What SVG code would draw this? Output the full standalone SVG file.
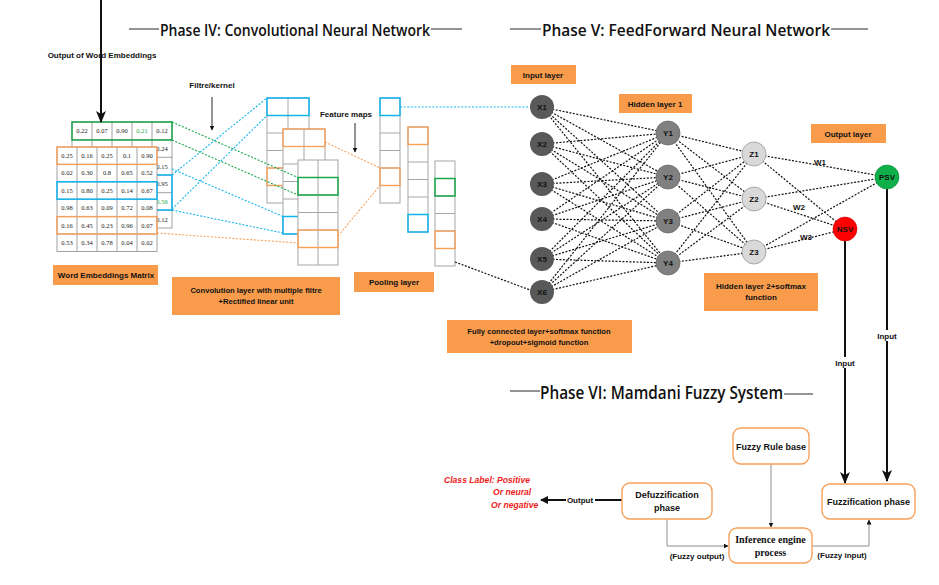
<svg xmlns="http://www.w3.org/2000/svg" width="939" height="585" viewBox="0 0 939 585">
<style>
.t{font-family:"Liberation Sans",Arial,sans-serif;font-weight:bold;font-size:8px;fill:#111;text-anchor:middle}
.h{font-family:"Open Sans","Liberation Sans",Arial,sans-serif;font-weight:600;font-size:17px;fill:#111}
.n{font-family:"Liberation Serif","Times New Roman",serif;font-size:6.5px;fill:#222;text-anchor:middle}
.lbl{fill:#f89c4c}
.grid{fill:#fff;stroke:#a6a6a6;stroke-width:1}
.gl{stroke:#a6a6a6;stroke-width:1}
.cell{fill:#fff;stroke:#8a8a8a;stroke-width:0.8}
.cl{stroke:#8a8a8a;stroke-width:0.8}
.gb{fill:none;stroke:#1aa84a;stroke-width:1.5}
.bb{fill:none;stroke:#12b4ee;stroke-width:1.5}
.ob{fill:none;stroke:#f7a05a;stroke-width:1.4}
.dk{fill:none;stroke:#111;stroke-width:1.2;stroke-dasharray:2 1.5}
.dg{fill:none;stroke:#1aa84a;stroke-width:1.1;stroke-dasharray:2 1.6}
.db{fill:none;stroke:#12b4ee;stroke-width:1.1;stroke-dasharray:2 1.6}
.do{fill:none;stroke:#f7a05a;stroke-width:1.1;stroke-dasharray:2 1.6}
.box{fill:#fff;stroke:#f7a05a;stroke-width:1.4}
.gr{fill:none;stroke:#8c8c8c;stroke-width:1}
.thick{fill:none;stroke:#111;stroke-width:2}
.thin{fill:none;stroke:#111;stroke-width:0.9}
</style>
<defs>
<marker id="ab" markerWidth="8" markerHeight="8" refX="7" refY="4" orient="auto" markerUnits="userSpaceOnUse"><path d="M0,0 L8,4 L0,8 Z" fill="#111"/></marker>
<marker id="abig" markerWidth="12" markerHeight="10" refX="11" refY="5" orient="auto" markerUnits="userSpaceOnUse"><path d="M0,0 L12,5 L0,10 L3,5 Z" fill="#111"/></marker>
<marker id="as" markerWidth="5" markerHeight="5" refX="4.5" refY="2.5" orient="auto" markerUnits="userSpaceOnUse"><path d="M0,0 L5,2.5 L0,5 Z" fill="#111"/></marker>
</defs>
<rect width="939" height="585" fill="#fff"/>

<g id="headings">
<line x1="129" y1="29" x2="159" y2="29" class="thin"/>
<text x="160" y="36" class="h" textLength="270" lengthAdjust="spacingAndGlyphs">Phase IV: Convolutional Neural Network</text>
<line x1="431" y1="29" x2="462" y2="29" class="thin"/>
<line x1="510" y1="29" x2="541" y2="29" class="thin"/>
<text x="542" y="36" class="h" textLength="288" lengthAdjust="spacingAndGlyphs">Phase V: FeedForward Neural Network</text>
<line x1="831" y1="29" x2="868" y2="29" class="thin"/>
<line x1="510" y1="391" x2="540" y2="391" class="thin"/>
<text x="540" y="399" class="h" style="font-size:18px" textLength="243" lengthAdjust="spacingAndGlyphs">Phase VI: Mamdani Fuzzy System</text>
<line x1="784" y1="394" x2="813" y2="394" class="thin"/>
</g>

<g id="embedding-output">
<text x="102" y="58" class="t">Output of Word Embeddings</text>
</g>

<g id="matrix-back">
<rect x="72" y="122" width="100" height="106" class="cell"/>
<line x1="92" y1="122" x2="92" y2="228" class="cl"/><line x1="112" y1="122" x2="112" y2="228" class="cl"/><line x1="132" y1="122" x2="132" y2="228" class="cl"/><line x1="152" y1="122" x2="152" y2="228" class="cl"/>
<line x1="72" y1="139.7" x2="172" y2="139.7" class="cl"/><line x1="72" y1="157.3" x2="172" y2="157.3" class="cl"/><line x1="72" y1="175" x2="172" y2="175" class="cl"/><line x1="72" y1="192.7" x2="172" y2="192.7" class="cl"/><line x1="72" y1="210.3" x2="172" y2="210.3" class="cl"/>
<text x="82" y="133.3" class="n">0.22</text><text x="102" y="133.3" class="n">0.07</text><text x="122" y="133.3" class="n">0.90</text><text x="142" y="133.3" class="n" style="fill:#1aa84a">0.21</text><text x="162" y="133.3" class="n">0.12</text>
<text x="162" y="150.8" class="n">0.24</text>
<text x="162" y="168.5" class="n">0.15</text>
<text x="162" y="186.2" class="n">0.95</text>
<text x="162" y="203.9" class="n" style="fill:#1aa84a">0.56</text>
<text x="162" y="221.6" class="n">0.12</text>
<rect x="72" y="122" width="100" height="18" class="gb"/>
<rect x="72" y="175" width="100" height="35" class="bb"/>
</g>

<g id="matrix-front">
<rect x="57" y="147" width="100" height="104.4" class="cell"/>
<line x1="77" y1="147" x2="77" y2="251.4" class="cl"/><line x1="97" y1="147" x2="97" y2="251.4" class="cl"/><line x1="117" y1="147" x2="117" y2="251.4" class="cl"/><line x1="137" y1="147" x2="137" y2="251.4" class="cl"/>
<line x1="57" y1="164.4" x2="157" y2="164.4" class="cl"/><line x1="57" y1="181.8" x2="157" y2="181.8" class="cl"/><line x1="57" y1="199.2" x2="157" y2="199.2" class="cl"/><line x1="57" y1="216.6" x2="157" y2="216.6" class="cl"/><line x1="57" y1="234" x2="157" y2="234" class="cl"/>
<text x="67" y="158" class="n">0.25</text><text x="87" y="158" class="n">0.16</text><text x="107" y="158" class="n">0.25</text><text x="127" y="158" class="n">0.1</text><text x="147" y="158" class="n">0.90</text>
<text x="67" y="175.4" class="n">0.02</text><text x="87" y="175.4" class="n">0.30</text><text x="107" y="175.4" class="n">0.8</text><text x="127" y="175.4" class="n">0.65</text><text x="147" y="175.4" class="n">0.52</text>
<text x="67" y="192.8" class="n">0.15</text><text x="87" y="192.8" class="n">0.80</text><text x="107" y="192.8" class="n">0.25</text><text x="127" y="192.8" class="n">0.14</text><text x="147" y="192.8" class="n">0.67</text>
<text x="67" y="210.2" class="n">0.98</text><text x="87" y="210.2" class="n">0.63</text><text x="107" y="210.2" class="n">0.09</text><text x="127" y="210.2" class="n">0.72</text><text x="147" y="210.2" class="n">0.08</text>
<text x="67" y="227.6" class="n">0.16</text><text x="87" y="227.6" class="n">0.45</text><text x="107" y="227.6" class="n">0.23</text><text x="127" y="227.6" class="n">0.96</text><text x="147" y="227.6" class="n">0.07</text>
<text x="67" y="245" class="n">0.53</text><text x="87" y="245" class="n">0.34</text><text x="107" y="245" class="n">0.78</text><text x="127" y="245" class="n">0.04</text><text x="147" y="245" class="n">0.02</text>
<rect x="57" y="147" width="100" height="17.4" class="ob"/>
<rect x="57" y="181.8" width="100" height="17.4" class="bb"/>
<rect x="57" y="216.6" width="100" height="17.4" class="ob"/>
</g>

<g id="conv-layer">
<rect x="267" y="98" width="42" height="105" class="grid"/>
<line x1="288" y1="98" x2="288" y2="203" class="gl"/>
<line x1="267" y1="115.5" x2="309" y2="115.5" class="gl"/><line x1="267" y1="133" x2="309" y2="133" class="gl"/><line x1="267" y1="150.5" x2="309" y2="150.5" class="gl"/><line x1="267" y1="168" x2="309" y2="168" class="gl"/><line x1="267" y1="185.5" x2="309" y2="185.5" class="gl"/>
<rect x="267" y="98" width="42" height="17.5" class="bb"/>
<rect x="267" y="168" width="42" height="17.5" class="ob"/>

<rect x="283" y="129" width="42" height="105" class="grid"/>
<line x1="304" y1="129" x2="304" y2="234" class="gl"/>
<line x1="283" y1="146.5" x2="325" y2="146.5" class="gl"/><line x1="283" y1="164" x2="325" y2="164" class="gl"/><line x1="283" y1="181.5" x2="325" y2="181.5" class="gl"/><line x1="283" y1="199" x2="325" y2="199" class="gl"/><line x1="283" y1="216.5" x2="325" y2="216.5" class="gl"/>
<rect x="283" y="129" width="42" height="17.5" class="ob"/>
<rect x="283" y="216.5" width="42" height="17.5" class="bb"/>

<rect x="298" y="160" width="40" height="105" class="grid"/>
<line x1="318" y1="160" x2="318" y2="265" class="gl"/>
<line x1="298" y1="177.5" x2="338" y2="177.5" class="gl"/><line x1="298" y1="195" x2="338" y2="195" class="gl"/><line x1="298" y1="212.5" x2="338" y2="212.5" class="gl"/><line x1="298" y1="230" x2="338" y2="230" class="gl"/><line x1="298" y1="247.5" x2="338" y2="247.5" class="gl"/>
<rect x="298" y="177.5" width="40" height="17.5" class="gb"/>
<rect x="298" y="230" width="40" height="17.5" class="ob"/>
</g>

<g id="feature-maps">
<rect x="380" y="98" width="20" height="105" class="grid"/>
<line x1="380" y1="115.5" x2="400" y2="115.5" class="gl"/><line x1="380" y1="133" x2="400" y2="133" class="gl"/><line x1="380" y1="150.5" x2="400" y2="150.5" class="gl"/><line x1="380" y1="168" x2="400" y2="168" class="gl"/><line x1="380" y1="185.5" x2="400" y2="185.5" class="gl"/>
<rect x="380" y="98" width="20" height="17.5" class="bb"/>
<rect x="380" y="168" width="20" height="17.5" class="ob"/>

<rect x="408" y="127" width="20" height="105" class="grid"/>
<line x1="408" y1="144.5" x2="428" y2="144.5" class="gl"/><line x1="408" y1="162" x2="428" y2="162" class="gl"/><line x1="408" y1="179.5" x2="428" y2="179.5" class="gl"/><line x1="408" y1="197" x2="428" y2="197" class="gl"/><line x1="408" y1="214.5" x2="428" y2="214.5" class="gl"/>
<rect x="408" y="127" width="20" height="17.5" class="ob"/>
<rect x="408" y="214.5" width="20" height="17.5" class="bb"/>

<rect x="435" y="161" width="20" height="105" class="grid"/>
<line x1="435" y1="178.5" x2="455" y2="178.5" class="gl"/><line x1="435" y1="196" x2="455" y2="196" class="gl"/><line x1="435" y1="213.5" x2="455" y2="213.5" class="gl"/><line x1="435" y1="231" x2="455" y2="231" class="gl"/><line x1="435" y1="248.5" x2="455" y2="248.5" class="gl"/>
<rect x="435" y="178.5" width="20" height="17.5" class="gb"/>
<rect x="435" y="231" width="20" height="17.5" class="ob"/>
</g>

<g id="annotations">
<text x="212" y="88" class="t">Filtre/kernel</text>
<text x="346" y="117" class="t">Feature maps</text>
</g>

<g id="connectors">
<line x1="101" y1="0" x2="101" y2="122" class="thick" marker-end="url(#abig)"/>
<line x1="212" y1="97" x2="212" y2="130" class="thin" marker-end="url(#as)"/>
<line x1="355" y1="123" x2="355" y2="152" class="thin" marker-end="url(#as)"/>

<line x1="172" y1="122" x2="298" y2="177.5" class="dg"/>
<line x1="172" y1="140" x2="298" y2="195" class="dg"/>
<line x1="172" y1="175" x2="267" y2="98" class="db"/>
<line x1="172" y1="209" x2="267" y2="115.5" class="db"/>
<line x1="172" y1="169" x2="283" y2="216.5" class="db"/>
<line x1="172" y1="210" x2="283" y2="233" class="db"/>
<line x1="157" y1="233" x2="298" y2="243" class="do"/>
<line x1="325" y1="142" x2="380" y2="168" class="do"/>
<line x1="338" y1="236" x2="380" y2="185.5" class="do"/>
<line x1="400" y1="107" x2="530" y2="107" class="db"/>
<line x1="455" y1="262" x2="530" y2="290" class="dk"/>

<g class="dk">
<line x1="542" y1="107" x2="668" y2="133"/><line x1="542" y1="107" x2="668" y2="177"/><line x1="542" y1="107" x2="668" y2="221"/><line x1="542" y1="107" x2="668" y2="263"/>
<line x1="542" y1="144" x2="668" y2="133"/><line x1="542" y1="144" x2="668" y2="177"/><line x1="542" y1="144" x2="668" y2="221"/><line x1="542" y1="144" x2="668" y2="263"/>
<line x1="542" y1="184" x2="668" y2="133"/><line x1="542" y1="184" x2="668" y2="177"/><line x1="542" y1="184" x2="668" y2="221"/><line x1="542" y1="184" x2="668" y2="263"/>
<line x1="542" y1="219" x2="668" y2="133"/><line x1="542" y1="219" x2="668" y2="177"/><line x1="542" y1="219" x2="668" y2="221"/><line x1="542" y1="219" x2="668" y2="263"/>
<line x1="542" y1="259" x2="668" y2="133"/><line x1="542" y1="259" x2="668" y2="177"/><line x1="542" y1="259" x2="668" y2="221"/><line x1="542" y1="259" x2="668" y2="263"/>
<line x1="542" y1="292" x2="668" y2="133"/><line x1="542" y1="292" x2="668" y2="177"/><line x1="542" y1="292" x2="668" y2="221"/><line x1="542" y1="292" x2="668" y2="263"/>
<line x1="668" y1="133" x2="754" y2="154"/><line x1="668" y1="133" x2="754" y2="199"/><line x1="668" y1="133" x2="754" y2="252"/>
<line x1="668" y1="177" x2="754" y2="154"/><line x1="668" y1="177" x2="754" y2="199"/><line x1="668" y1="177" x2="754" y2="252"/>
<line x1="668" y1="221" x2="754" y2="154"/><line x1="668" y1="221" x2="754" y2="199"/><line x1="668" y1="221" x2="754" y2="252"/>
<line x1="668" y1="263" x2="754" y2="154"/><line x1="668" y1="263" x2="754" y2="199"/><line x1="668" y1="263" x2="754" y2="252"/>
<line x1="754" y1="154" x2="887" y2="177"/><line x1="754" y1="154" x2="845" y2="229"/>
<line x1="754" y1="199" x2="887" y2="177"/><line x1="754" y1="199" x2="845" y2="229"/>
<line x1="754" y1="252" x2="887" y2="177"/><line x1="754" y1="252" x2="845" y2="229"/>
</g>

<line x1="845" y1="241" x2="845" y2="483" class="thick" marker-end="url(#abig)"/>
<line x1="887" y1="189" x2="887" y2="481" class="thick" marker-end="url(#abig)"/>
<rect x="832" y="357" width="26" height="11" fill="#fff"/>
<text x="845" y="366" class="t">Input</text>
<rect x="874" y="330" width="26" height="11" fill="#fff"/>
<text x="887" y="339" class="t">Input</text>

<line x1="771" y1="464" x2="771" y2="527" class="gr" marker-end="url(#as)"/>
<polyline points="812,546 869,546 869,520" class="gr" marker-end="url(#as)"/>
<polyline points="667,519 667,546 728,546" class="gr" marker-end="url(#as)"/>
<line x1="622" y1="500" x2="541" y2="500" class="thick" marker-end="url(#ab)"/>
<rect x="566" y="494" width="29" height="11" fill="#fff"/>
<text x="580" y="503" class="t">Output</text>
<text x="697" y="559" class="t">(Fuzzy output)</text>
<text x="842" y="558" class="t">(Fuzzy input)</text>
</g>

<g id="weights">
<text x="820" y="165" class="t">W1</text>
<text x="799" y="210" class="t">W2</text>
<text x="806" y="240" class="t">W3</text>
</g>

<g id="X1"><circle cx="542" cy="107" r="12" fill="#595959"/><text x="542" y="110" class="t">X1</text></g>
<g id="X2"><circle cx="542" cy="144" r="12" fill="#595959"/><text x="542" y="147" class="t">X2</text></g>
<g id="X3"><circle cx="542" cy="184" r="12" fill="#595959"/><text x="542" y="187" class="t">X3</text></g>
<g id="X4"><circle cx="542" cy="219" r="12" fill="#595959"/><text x="542" y="222" class="t">X4</text></g>
<g id="X5"><circle cx="542" cy="259" r="12" fill="#595959"/><text x="542" y="262" class="t">X5</text></g>
<g id="X6"><circle cx="542" cy="292" r="12" fill="#595959"/><text x="542" y="295" class="t">X6</text></g>
<g id="Y1"><circle cx="668" cy="133" r="12" fill="#808080" stroke="#6b6b6b" stroke-width="0.8"/><text x="668" y="136" class="t">Y1</text></g>
<g id="Y2"><circle cx="668" cy="177" r="12" fill="#808080" stroke="#6b6b6b" stroke-width="0.8"/><text x="668" y="180" class="t">Y2</text></g>
<g id="Y3"><circle cx="668" cy="221" r="12" fill="#808080" stroke="#6b6b6b" stroke-width="0.8"/><text x="668" y="224" class="t">Y3</text></g>
<g id="Y4"><circle cx="668" cy="263" r="12" fill="#808080" stroke="#6b6b6b" stroke-width="0.8"/><text x="668" y="266" class="t">Y4</text></g>
<g id="Z1"><circle cx="754" cy="154" r="12" fill="#d9d9d9" stroke="#999" stroke-width="0.8"/><text x="754" y="157" class="t">Z1</text></g>
<g id="Z2"><circle cx="754" cy="199" r="12" fill="#d9d9d9" stroke="#999" stroke-width="0.8"/><text x="754" y="202" class="t">Z2</text></g>
<g id="Z3"><circle cx="754" cy="252" r="12" fill="#d9d9d9" stroke="#999" stroke-width="0.8"/><text x="754" y="255" class="t">Z3</text></g>
<g id="PSV"><circle cx="887" cy="177" r="12" fill="#0fb04a" stroke="#0a8a3a" stroke-width="0.6"/><text x="887" y="180" class="t">PSV</text></g>
<g id="NSV"><circle cx="845" cy="229" r="12" fill="#ff0000" stroke="#c00" stroke-width="0.6"/><text x="845" y="232" class="t">NSV</text></g>

<g id="label-word-matrix"><rect x="53" y="265" width="105" height="20" class="lbl"/><text x="106" y="278" class="t">Word Embeddings Matrix</text></g>
<g id="label-conv"><rect x="172" y="277" width="168" height="38" class="lbl"/><text x="256" y="293" class="t" style="font-size:7.6px">Convolution layer with multiple filtre</text><text x="256" y="304" class="t" style="font-size:7.6px">+Rectified linear unit</text></g>
<g id="label-pooling"><rect x="354" y="272" width="80" height="20" class="lbl"/><text x="394" y="285" class="t">Pooling layer</text></g>
<g id="label-input"><rect x="511" y="65" width="65" height="19" class="lbl"/><text x="543" y="77.5" class="t">Input layer</text></g>
<g id="label-hidden1"><rect x="619" y="94" width="73" height="19" class="lbl"/><text x="655" y="106.5" class="t">Hidden layer 1</text></g>
<g id="label-output"><rect x="811" y="124" width="75" height="19" class="lbl"/><text x="848" y="136.5" class="t">Output layer</text></g>
<g id="label-hidden2"><rect x="704" y="273" width="114" height="38" class="lbl"/><text x="761" y="289" class="t">Hidden layer 2+softmax</text><text x="761" y="300" class="t">function</text></g>
<g id="label-fc"><rect x="447" y="320" width="185" height="33" class="lbl"/><text x="539" y="334" class="t" style="font-size:7.6px">Fully connected layer+softmax function</text><text x="539" y="345" class="t" style="font-size:7.6px">+dropout+sigmoid function</text></g>

<g id="rule-base"><rect x="733" y="428" width="76" height="36" rx="8" class="box"/><text x="771" y="450" class="t" style="font-size:9px">Fuzzy Rule base</text></g>
<g id="fuzzification"><rect x="822" y="484" width="93" height="35" rx="8" class="box"/><text x="868.5" y="505" class="t" style="font-size:9px">Fuzzification phase</text></g>
<g id="inference"><rect x="729" y="528" width="83" height="35" rx="8" class="box"/><text x="770.5" y="543" class="t" style="font-family:'Liberation Serif','Times New Roman',serif;font-size:10px">Inference engine</text><text x="770.5" y="556" class="t" style="font-family:'Liberation Serif','Times New Roman',serif;font-size:10px">process</text></g>
<g id="defuzzification"><rect x="622" y="483" width="90" height="36" rx="8" class="box"/><text x="667" y="498" class="t" style="font-size:9px">Defuzzification</text><text x="667" y="511" class="t" style="font-size:9px">phase</text></g>
<g id="class-label" style="font-family:'Liberation Sans',Arial,sans-serif;font-weight:bold;font-style:italic;font-size:8.6px;fill:#ee1c1c">
<text x="444" y="483">Class Label: Positive</text>
<text x="493" y="495">Or neural</text>
<text x="491" y="508">Or negative</text>
</g>
</svg>
